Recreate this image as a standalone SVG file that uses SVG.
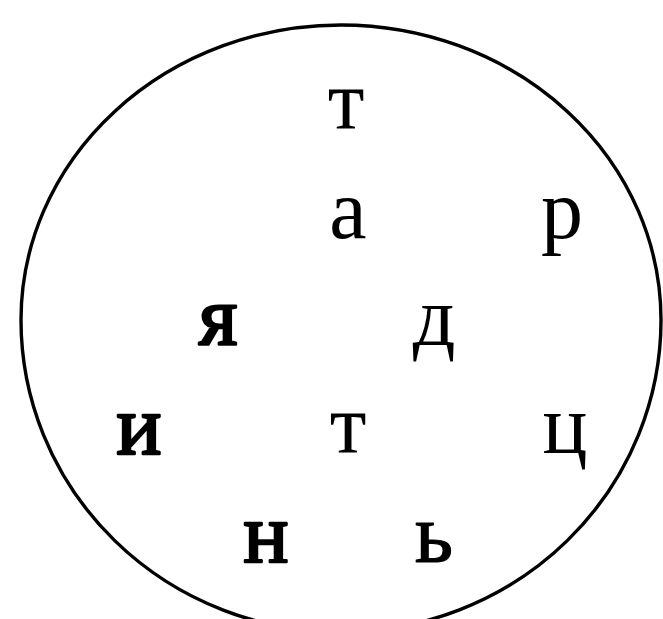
<svg xmlns="http://www.w3.org/2000/svg" width="663" height="619" viewBox="0 0 663 619">
<style>
.l{font-family:"Liberation Serif","Times New Roman",serif;font-size:84px;fill:#000;text-anchor:middle}
.b{stroke:#000;stroke-width:2.6;stroke-linejoin:round}
.c{fill:none;stroke:#000;stroke-width:3.4}
</style>
<rect width="663" height="619" fill="#fff"/>
<g id="outline">
<path class="c" d="M21,320 A320,295 0 0 1 661,320 A320,312 0 0 1 21,320 Z"/>
</g>
<g id="letters">
<g id="t1"><text class="l" x="346" y="129">т</text></g>
<g id="a"><text class="l" x="348" y="238">а</text></g>
<g id="r"><text class="l" x="562" y="238">р</text></g>
<g id="ya"><text class="l b" x="218" y="345">я</text></g>
<g id="d"><text class="l" x="434" y="345">д</text></g>
<g id="i"><text class="l b" x="139" y="454">и</text></g>
<g id="t2"><text class="l" x="348" y="453">т</text></g>
<g id="ts"><text class="l" x="565" y="453">ц</text></g>
<g id="n"><text class="l b" x="266" y="562">н</text></g>
<g id="soft"><text class="l b" style="stroke-width:1.2" x="434" y="562">ь</text></g>
</g>
</svg>
